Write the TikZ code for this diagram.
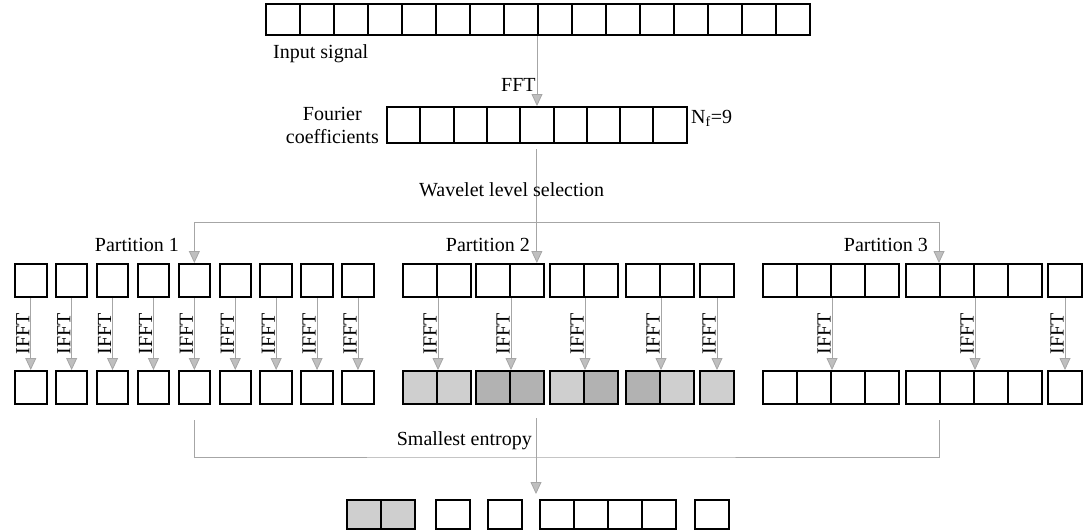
\documentclass[tikz,border=0pt]{standalone}
\usepackage{fontspec}
\setmainfont{Liberation Serif}
\usetikzlibrary{arrows.meta}
\tikzset{
  cell/.style={draw, line width=2pt, inner sep=0pt, anchor=north west,
    minimum width=34pt, minimum height=33pt},
  blank/.style={},
  light/.style={fill=gray!38},
  dark/.style={fill=gray!60},
  link/.style={draw=gray!70, line width=0.8pt},
  flow/.style={link, -{Triangle[length=12pt,width=11pt,fill=gray!50]}},
  lbl/.style={font=\fontsize{20}{23}\selectfont, inner sep=1pt},
  ifft/.style={lbl, rotate=90, anchor=south, midway}
}
\begin{document}
\begin{tikzpicture}[x=1pt,y=-1pt]
\useasboundingbox (0,0) rectangle (1084,530);
% input signal
\foreach \i in {1,...,16}
  \node[cell, minimum height=31pt] (in\i) at ({265+34*(\i-1)},3) {};
\node[lbl, anchor=west] (insig) at (272,54) {Input signal};
% Fourier coefficients
\foreach \i in {1,...,9}
  \node[cell, minimum width=33.3pt, minimum height=36pt] (fc\i) at ({386+33.3*(\i-1)},106) {};
\node[lbl, anchor=east, align=center] (fclbl) at (380,125) {Fourier\\coefficients};
\node[lbl, anchor=west] (nf) at (690,118) {N\textsubscript{f}=9};
% FFT
\draw[flow] (in9.south west) -- node[lbl, left, pos=0.7] (fftlbl) {FFT} (in9.south west |- fc5.north);
% partition 1
\foreach \i in {1,...,9} {
  \node[cell, minimum width=31.5pt] (pa\i) at ({14+40.9*(\i-1)},263) {};
  \node[cell, minimum width=31.5pt] (qa\i) at ({14+40.9*(\i-1)},370) {};
  \draw[flow] (pa\i) -- node[ifft] {IFFT} (qa\i);
}
% partition 2
\foreach \x/\s [count=\i] in {402/light,436/light,475/dark,509/dark,549/light,583/dark,625/dark,659/light,699/light} {
  \node[cell] (pb\i) at (\x,263) {};
  \node[cell,\s] (qb\i) at (\x,370) {};
}
\foreach \i in {1,3,5,7}
  \draw[flow] (pb\i.south east) -- node[ifft] {IFFT} (qb\i.north east);
\draw[flow] (pb9) -- node[ifft] {IFFT} (qb9);
% partition 3
\foreach \x [count=\i] in {762,796,830,864,905,939,973,1007,1047} {
  \node[cell] (pc\i) at (\x,263) {};
  \node[cell] (qc\i) at (\x,370) {};
}
\foreach \i in {2,6}
  \draw[flow] (pc\i.south east) -- node[ifft] {IFFT} (qc\i.north east);
\draw[flow] (pc9) -- node[ifft] {IFFT} (qc9);
% wavelet level selection
\coordinate (hub) at (536,222);
\draw[link] (pa5.north |- hub) -- (pc6.north west |- hub);
\draw[flow, shorten <=5pt] (fc5.south) -- (fc5.south |- pb1.north);
\draw[flow] (pa5.north |- hub) -- (pa5.north);
\draw[flow] (pc6.north west |- hub) -- (pc6.north west);
\node[lbl, anchor=west] (wls) at (418,190) {Wavelet level selection};
\node[lbl, anchor=east] (pt1) at (180,245) {Partition 1};
\node[lbl, anchor=east] (pt2) at (531,245) {Partition 2};
\node[lbl, anchor=east] (pt3) at (929,245) {Partition 3};
% smallest entropy
\foreach \x/\s [count=\i] in {346/light,380/light,435/blank,487/blank,539/blank,573/blank,607/blank,641/blank,694/blank}
  \node[cell, minimum height=29pt, \s] (rs\i) at (\x,499) {};
\coordinate (sl) at ([yshift=-15pt]qa5.south);
\coordinate (sr) at ([yshift=-15pt]qc6.south west);
\coordinate (sc) at (536,418);
\coordinate (hs) at (536,457);
\draw[link] (sl) |- (hs) -| (sr);
\draw[flow, shorten >=5pt] (sc) -- (sc |- rs5.north);
\node[lbl, anchor=east] (ent) at (533,441) {Smallest entropy};
\end{tikzpicture}
\end{document}
